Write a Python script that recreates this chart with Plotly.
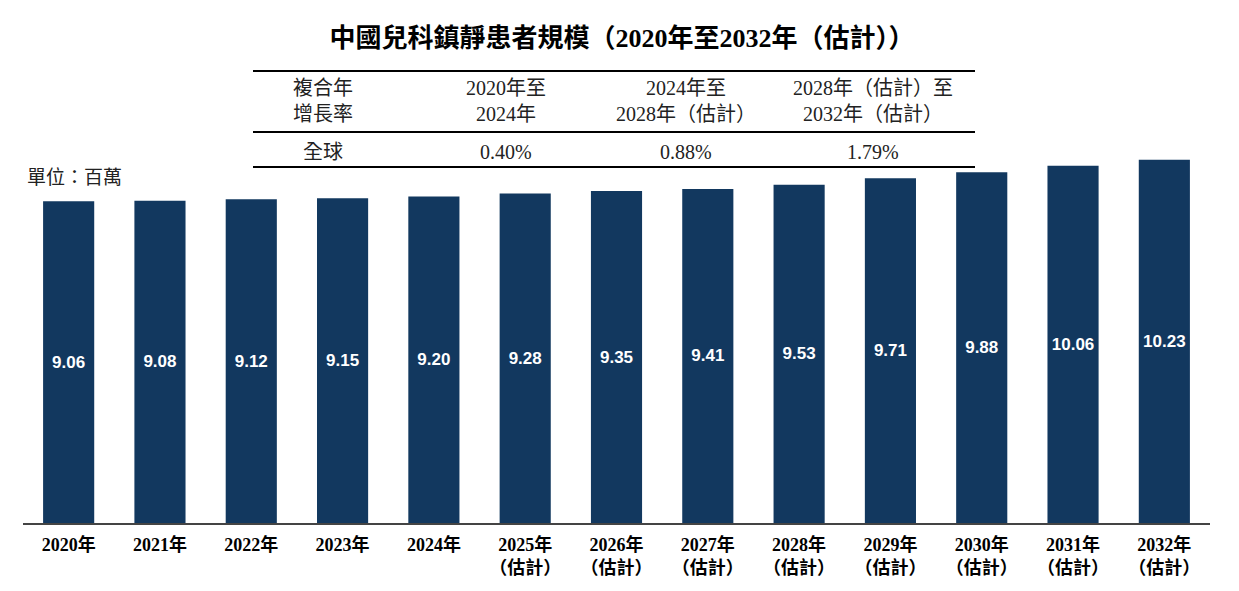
import plotly.graph_objects as go

years = ["2020年", "2021年", "2022年", "2023年", "2024年",
         "2025年<br>（估計）", "2026年<br>（估計）", "2027年<br>（估計）", "2028年<br>（估計）",
         "2029年<br>（估計）", "2030年<br>（估計）", "2031年<br>（估計）", "2032年<br>（估計）"]
values = [9.06, 9.08, 9.12, 9.15, 9.20, 9.28, 9.35, 9.41, 9.53, 9.71, 9.88, 10.06, 10.23]
value_labels = ["9.06", "9.08", "9.12", "9.15", "9.20", "9.28", "9.35", "9.41", "9.53", "9.71", "9.88", "10.06", "10.23"]

table_header = ["複合年<br>增長率", "2020年至<br>2024年", "2024年至<br>2028年（估計）", "2028年（估計）至<br>2032年（估計）"]
table_row = ["全球", "0.40%", "0.88%", "1.79%"]

OFF = 8  # page body margin
W, H = 1239 - 2 * OFF, 591 - 2 * OFF
L, R, T, B = 23 - OFF, 1210 - OFF, 145 - OFF, 523 - OFF
SERIF = "Liberation Serif, Times New Roman, Noto Sans CJK TC, serif"
BAR = "#12385f"

def px(x):
    return (x - OFF - L) / (R - L)

def py(y):
    return (B - (y - OFF)) / (B - T)

fig = go.Figure(go.Bar(
    x=years, y=values, text=value_labels,
    textposition="inside", insidetextanchor="middle",
    textfont=dict(family="Liberation Sans, Arial, sans-serif", size=17, color="white", weight="bold"),
    marker=dict(color=BAR, line=dict(width=0)),
    constraintext="none", hoverinfo="skip",
))

shapes = []
for yy, lw in [(71, 2), (132, 2), (167, 2)]:
    shapes.append(dict(type="line", xref="paper", yref="paper",
                       x0=px(253), x1=px(975), y0=py(yy), y1=py(yy),
                       line=dict(color="black", width=lw)))

annotations = []
col_x = [323, 506, 686, 873]
for cx, h, r in zip(col_x, table_header, table_row):
    annotations.append(dict(x=px(cx), y=py(101), xref="paper", yref="paper", text=h,
                            showarrow=False, xanchor="center", yanchor="middle",
                            font=dict(family=SERIF, size=20, color="#222")))
    annotations.append(dict(x=px(cx), y=py(152), xref="paper", yref="paper", text=r,
                            showarrow=False, xanchor="center", yanchor="middle",
                            font=dict(family=SERIF, size=20, color="#222")))
annotations.append(dict(x=px(25), y=py(177), xref="paper", yref="paper", text="單位：百萬",
                        showarrow=False, xanchor="left", yanchor="middle",
                        font=dict(family=SERIF, size=19, color="#222")))

fig.update_layout(
    width=W, height=H,
    margin=dict(l=L, r=W - R, t=T, b=H - B, autoexpand=False),
    paper_bgcolor="white", plot_bgcolor="white",
    title=dict(text="<b>中國兒科鎮靜患者規模（2020年至2032年（估計））</b>",
               x=(622 - OFF) / W, xanchor="center", y=1 - (38 - OFF) / H, yanchor="middle",
               font=dict(family=SERIF, size=26, color="black")),
    bargap=0.44,
    showlegend=False,
    xaxis=dict(showline=True, linecolor="#444", linewidth=2, ticks="",
               ticklabelstandoff=4, automargin=False,
               tickfont=dict(family=SERIF, size=18, color="black", weight="bold"),
               showgrid=False, zeroline=False),
    yaxis=dict(range=[0, (B - T) / 35.5], visible=False, showgrid=False, zeroline=False),
    shapes=shapes, annotations=annotations,
)

fig.write_html("out.html")
